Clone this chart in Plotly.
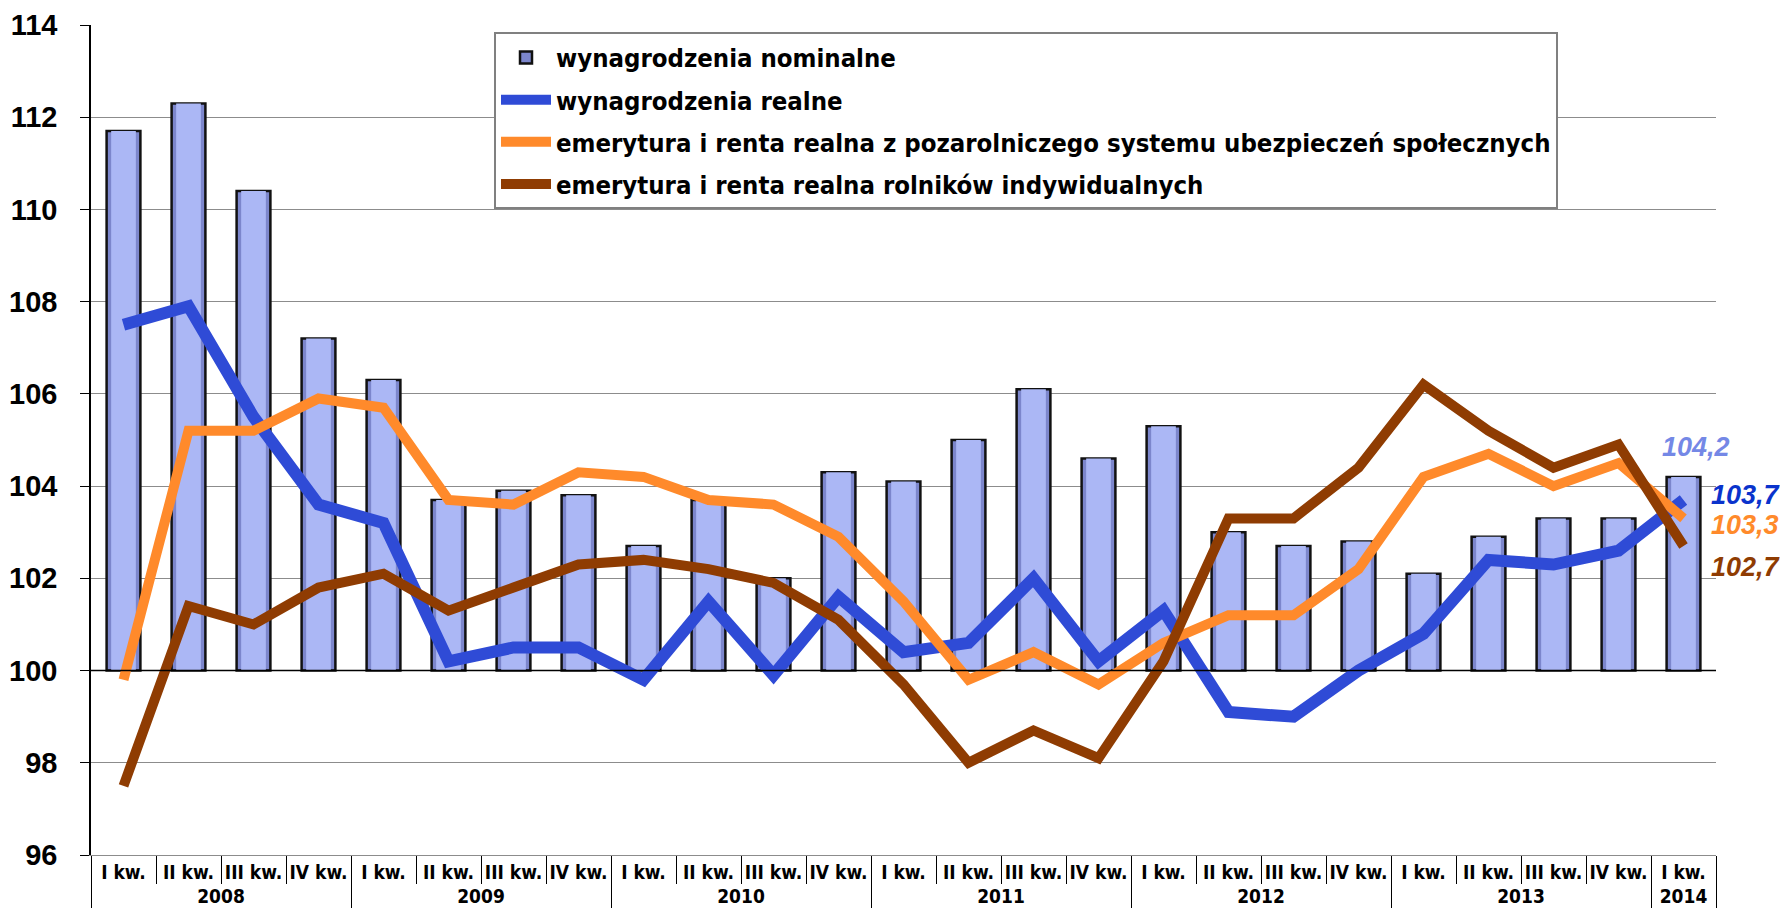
import plotly.graph_objects as go

years = ["2008"] * 4 + ["2009"] * 4 + ["2010"] * 4 + ["2011"] * 4 + ["2012"] * 4 + ["2013"] * 4 + ["2014"]
quarters = ["I kw.", "II kw.", "III kw.", "IV kw."] * 6 + ["I kw."]

nominalne = [111.7, 112.3, 110.4, 107.2, 106.3, 103.7, 103.9, 103.8, 102.7, 103.7, 102.0, 104.3,
             104.1, 105.0, 106.1, 104.6, 105.3, 103.0, 102.7, 102.8, 102.1, 102.9, 103.3, 103.3, 104.2]
realne = [107.5, 107.9, 105.5, 103.6, 103.2, 100.2, 100.5, 100.5, 99.8, 101.5, 99.9, 101.6,
          100.4, 100.6, 102.0, 100.2, 101.3, 99.1, 99.0, 100.0, 100.8, 102.4, 102.3, 102.6, 103.7]
emer_pozarol = [99.8, 105.2, 105.2, 105.9, 105.7, 103.7, 103.6, 104.3, 104.2, 103.7, 103.6, 102.9,
                101.5, 99.8, 100.4, 99.7, 100.6, 101.2, 101.2, 102.2, 104.2, 104.7, 104.0, 104.5, 103.3]
emer_rolnikow = [97.5, 101.4, 101.0, 101.8, 102.1, 101.3, 101.8, 102.3, 102.4, 102.2, 101.9, 101.1,
                 99.7, 98.0, 98.7, 98.1, 100.2, 103.3, 103.3, 104.4, 106.2, 105.2, 104.4, 104.9, 102.7]

names = ["wynagrodzenia nominalne", "wynagrodzenia realne",
         "emerytura i renta realna z pozarolniczego systemu ubezpieczeń społecznych",
         "emerytura i renta realna rolników indywidualnych"]

FONT = "Liberation Sans, Arial"
NARROW = "DejaVu Sans Condensed, Liberation Sans, Arial"
C_BAR = "#abb7f5"
C_BAR_EDGE = "#7c86cc"
C_BLUE = "#2f4bd6"
C_ORANGE = "#ff8a2b"
C_BROWN = "#8f3c02"

x = [[f"<b>{y}</b>" for y in years], [f"<b>{q}</b>" for q in quarters]]
base = 100
heights = [v - base for v in nominalne]
n = len(quarters)

fig = go.Figure()
fig.add_trace(go.Bar(
    x=x, y=heights, base=base, name="<b>" + names[0] + "</b>", legendgroup="a", width=0.52,
    marker=dict(color=C_BAR_EDGE, line=dict(color="#111111", width=2.5)),
))
fig.add_trace(go.Bar(
    x=x, y=heights, base=base, showlegend=False, legendgroup="a", width=0.38, hoverinfo="skip",
    marker=dict(color=C_BAR, line=dict(width=0)),
))
fig.add_trace(go.Scatter(x=x, y=realne, mode="lines", name="<b>" + names[1] + "</b>", legendgroup="b",
                         line=dict(color=C_BLUE, width=12)))
fig.add_trace(go.Scatter(x=x, y=emer_pozarol, mode="lines", name="<b>" + names[2] + "</b>", legendgroup="c",
                         line=dict(color=C_ORANGE, width=10)))
fig.add_trace(go.Scatter(x=x, y=emer_rolnikow, mode="lines", name="<b>" + names[3] + "</b>", legendgroup="d",
                         line=dict(color=C_BROWN, width=10)))

last = n - 1
def fmt(v):
    return f"{v:.1f}".replace(".", ",")

ann_font = dict(family="Liberation Sans, Arial", size=27)
annotations = [
    dict(x=last, y=nominalne[-1], text="<b><i>" + fmt(nominalne[-1]) + "</i></b>", showarrow=False,
         xanchor="center", yanchor="middle", xshift=12, yshift=30, font=dict(color="#7488e6", **ann_font)),
    dict(x=last, y=realne[-1], text="<b><i>" + fmt(realne[-1]) + "</i></b>", showarrow=False,
         xanchor="left", yanchor="middle", xshift=25, yshift=5, font=dict(color="#0a33cc", **ann_font)),
    dict(x=last, y=emer_pozarol[-1], text="<b><i>" + fmt(emer_pozarol[-1]) + "</i></b>", showarrow=False,
         xanchor="left", yanchor="middle", xshift=25, yshift=-7, font=dict(color=C_ORANGE, **ann_font)),
    dict(x=last, y=emer_rolnikow[-1], text="<b><i>" + fmt(emer_rolnikow[-1]) + "</i></b>", showarrow=False,
         xanchor="left", yanchor="middle", xshift=25, yshift=-21, font=dict(color=C_BROWN, **ann_font)),
    dict(xref="paper", yref="paper", x=0.5, y=1.046, xanchor="center", yanchor="middle", showarrow=False,
         text="<b>(analogiczny okres roku poprzedniego=100)</b>",
         font=dict(family="Liberation Sans, Arial", size=32, color="#000000")),
]

# page body adds an 8px offset, so the figure is sized 8px smaller to fit the 1788x915 window
fig.update_layout(
    width=1780, height=907,
    margin=dict(l=83, r=72, t=17, b=60),
    paper_bgcolor="white", plot_bgcolor="white",
    barmode="overlay",
    showlegend=True,
    legend=dict(x=0.248, y=0.991, xanchor="left", yanchor="top",
                bgcolor="white", bordercolor="#808080", borderwidth=2,
                font=dict(family=NARROW, size=25.5, color="#000000"),
                tracegroupgap=6, itemwidth=50, traceorder="grouped"),
    annotations=annotations,
    shapes=[dict(type="line", xref="paper", yref="y", x0=0, x1=1, y0=100, y1=100,
                 line=dict(color="#000000", width=1.5), layer="above")],
    font=dict(family=FONT, color="#000000"),
)
fig.update_yaxes(range=[96, 114], dtick=2, tick0=96, showgrid=True, gridcolor="#8c8c8c", gridwidth=1.3,
                 showline=True, linecolor="#000000", linewidth=1.5, ticks="outside", ticklen=9,
                 tickcolor="#000000", zeroline=False, automargin=False, ticklabelstandoff=17,
                 tickfont=dict(family=FONT, size=29, color="#000000"), tickprefix="<b>", ticksuffix="</b>")
fig.update_xaxes(type="multicategory", range=[-0.5, n - 0.5], autorange=False,
                 showline=True, linecolor="#8c8c8c", linewidth=1.3,
                 ticks="outside", tickson="boundaries", ticklen=28, tickcolor="#000000", tickangle=0,
                 showdividers=True, dividercolor="#000000", dividerwidth=1, automargin=False,
                 tickfont=dict(family=NARROW, size=19, color="#000000"))

fig.write_html("out.html")
